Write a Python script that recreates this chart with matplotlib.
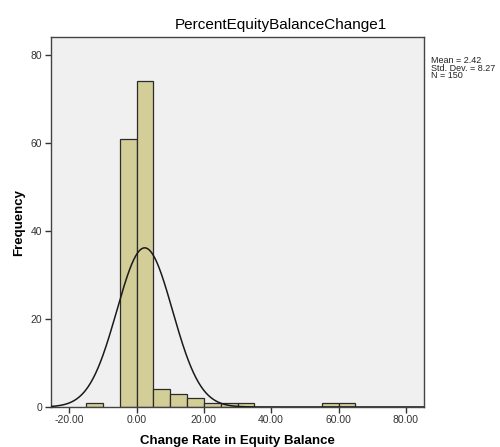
import numpy as np
import matplotlib
matplotlib.use("Agg")
import matplotlib.pyplot as plt

bin_left = [-15, -5, 0, 5, 10, 15, 20, 25, 30, 55, 60]
counts = [1, 61, 74, 4, 3, 2, 1, 1, 1, 1, 1]
bin_width = 5
mean_val = 2.42
std_val = 8.27
n_val = 150
xticks = [-20, 0, 20, 40, 60, 80]
yticks = [0, 20, 40, 60, 80]

plt.rcParams['font.family'] = ['Liberation Sans', 'DejaVu Sans']

fig = plt.figure(figsize=(5.0, 4.47), dpi=100)
fig.patch.set_facecolor('white')
ax = fig.add_axes([0.1014, 0.0895, 0.7466, 0.8277])
ax.set_facecolor('#F0F0F0')

ax.bar(bin_left, counts, width=bin_width, align='edge', color='#D3CE97',
       edgecolor='#2b2b2b', linewidth=0.9, zorder=2)

x = np.linspace(-25.5, 85.4, 600)
y = n_val * bin_width / (std_val * np.sqrt(2 * np.pi)) * np.exp(-0.5 * ((x - mean_val) / std_val) ** 2)
ax.plot(x, y, color='#1a1a1a', linewidth=1.1, zorder=3)

ax.set_xlim(-25.5, 85.4)
ax.set_ylim(0, 84.1)
ax.set_xticks(xticks)
ax.set_xticklabels([f"{v:.2f}" for v in xticks])
ax.set_yticks(yticks)
ax.tick_params(axis='both', labelsize=7.5, labelcolor='#333333', color='#333333',
               length=4, width=1, direction='out', pad=2)
for s in ax.spines.values():
    s.set_color('#444444')
    s.set_linewidth(1.0)

ax.set_xlabel('Change Rate in Equity Balance', fontsize=9.5, fontweight='bold', labelpad=7)
ax.set_ylabel('Frequency', fontsize=9.5, fontweight='bold', labelpad=4)

fig.text(281 / 500, 1 - 25 / 447, 'PercentEquityBalanceChange1', fontsize=11,
         ha='center', va='center')
fig.text(431 / 500, 1 - 56 / 447, f'Mean = {mean_val:.2f}\nStd. Dev. = {std_val:.2f}\nN = {n_val}',
         fontsize=6.5, ha='left', va='top', linespacing=0.82, color='#222222')

fig.savefig('out.png', dpi=100)
